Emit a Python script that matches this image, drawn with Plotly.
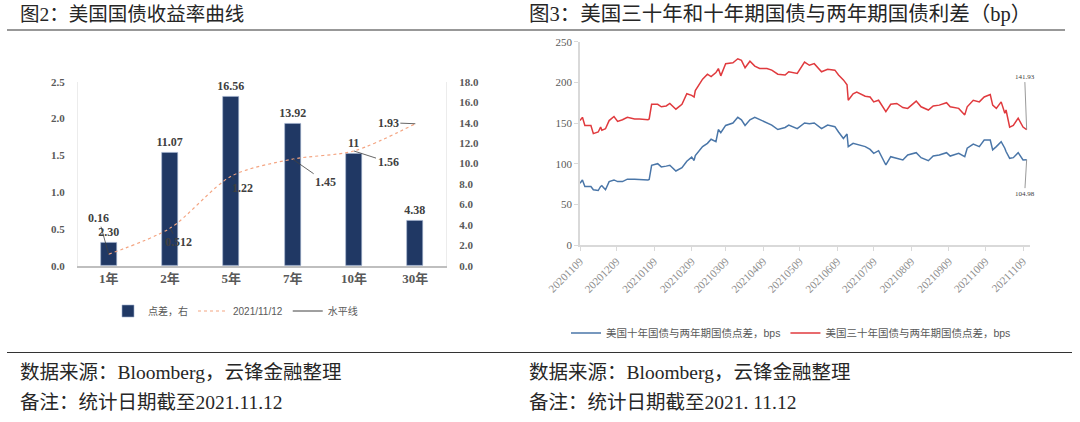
import plotly.graph_objects as go

# ---------------- Left chart data ----------------
maturities = ["1年", "2年", "5年", "7年", "10年", "30年"]
spread_bp = [2.30, 11.07, 16.56, 13.92, 11.00, 4.38]
spread_labels = ["2.30", "11.07", "16.56", "13.92", "11", "4.38"]
yields_20211112 = [0.16, 0.512, 1.22, 1.45, 1.56, 1.93]
yield_labels = ["0.16", "0.512", "1.22", "1.45", "1.56", "1.93"]

# ---------------- Right chart data ----------------
dates = [
    "2020-11-09", "2020-11-11", "2020-11-13", "2020-11-18", "2020-11-20", "2020-11-24",
    "2020-11-26", "2020-11-27", "2020-11-30", "2020-12-03", "2020-12-07", "2020-12-10",
    "2020-12-14", "2020-12-18", "2020-12-24", "2020-12-28", "2021-01-04", "2021-01-05",
    "2021-01-07", "2021-01-12", "2021-01-15", "2021-01-19", "2021-01-22", "2021-01-27",
    "2021-02-01", "2021-02-05", "2021-02-09", "2021-02-11", "2021-02-12", "2021-02-18",
    "2021-02-22", "2021-02-25", "2021-03-01", "2021-03-03", "2021-03-05", "2021-03-09",
    "2021-03-15", "2021-03-19", "2021-03-22", "2021-03-25", "2021-03-29", "2021-04-02",
    "2021-04-06", "2021-04-12", "2021-04-16", "2021-04-21", "2021-04-27", "2021-04-30",
    "2021-05-07", "2021-05-13", "2021-05-17", "2021-05-21", "2021-05-27", "2021-06-01",
    "2021-06-07", "2021-06-10", "2021-06-14", "2021-06-17", "2021-06-18", "2021-06-22",
    "2021-06-25", "2021-07-02", "2021-07-06", "2021-07-09", "2021-07-13", "2021-07-19",
    "2021-07-23", "2021-07-28", "2021-08-02", "2021-08-06", "2021-08-13", "2021-08-17",
    "2021-08-23", "2021-08-27", "2021-09-01", "2021-09-07", "2021-09-10", "2021-09-17",
    "2021-09-22", "2021-09-24", "2021-09-29", "2021-10-04", "2021-10-08", "2021-10-13",
    "2021-10-15", "2021-10-18", "2021-10-22", "2021-10-25", "2021-10-26", "2021-10-29",
    "2021-11-01", "2021-11-05", "2021-11-09", "2021-11-12",
]
spread_30y_2y = [
    153, 157, 147, 147, 137, 139,
    145, 141, 143, 153, 158, 152,
    154, 157, 155, 155, 154, 155,
    173, 173, 170, 171, 174, 167,
    173, 186, 184, 182, 190, 204,
    210, 207, 212, 217, 208, 223,
    224, 229, 227, 218, 226, 220,
    217, 217, 215, 210, 209, 213,
    211, 225, 221, 223, 213, 216,
    215, 209, 203, 197, 178, 186,
    188, 183, 182, 176, 178, 164,
    173, 174, 169, 168, 177, 170,
    166, 171, 172, 175, 170, 168,
    160, 170, 178, 176, 182, 185,
    172, 168, 176, 162, 166, 145,
    147, 156, 145, 141.93,
]
spread_10y_2y = [
    76, 80, 72, 72, 68, 67,
    72, 73, 68, 78, 80, 78,
    78, 81, 81, 80.5, 80, 80.5,
    98, 100, 96, 97, 98, 91,
    95, 103, 108, 104, 110, 121,
    125, 130, 127, 142, 138, 147,
    150, 157, 154, 147, 154, 157,
    154, 150, 147.5, 142, 144.5, 147.5,
    143, 150, 149, 150, 143, 147.5,
    145.5, 139, 131, 136.5, 121, 125,
    124, 121, 117.5, 112.7, 116, 98.4,
    108.6, 106.6, 104.5, 110.7, 113.5, 107.4,
    103.7, 109.4, 110.7, 113.5, 109.4, 112.7,
    108.6, 119, 124, 121, 129, 129,
    117, 121, 127, 119, 115, 106.6,
    107.4, 113.5, 104.5, 104.98,
]
tick_dates = ["2020-11-09", "2020-12-09", "2021-01-09", "2021-02-09", "2021-03-09",
              "2021-04-09", "2021-05-09", "2021-06-09", "2021-07-09", "2021-08-09",
              "2021-09-09", "2021-10-09", "2021-11-09"]
tick_labels = ["20201109", "20201209", "20210109", "20210209", "20210309",
               "20210409", "20210509", "20210609", "20210709", "20210809",
               "20210909", "20211009", "20211109"]

# ---------------- Styles ----------------
SERIF = "Liberation Serif, Noto Sans CJK SC"
SANS = "Liberation Sans, Noto Sans CJK SC"
CJK = "Liberation Serif, Noto Sans CJK SC"
yield_label_offsets = [(-10, -36), (8, 14), (11, 12), (33, 23), (34, 11), (-27, -1)]

fig = go.Figure()

fig.add_trace(go.Bar(
    x=maturities, y=spread_bp, xaxis="x", yaxis="y", name="点差，右",
    width=0.26, marker=dict(color="#203864", line=dict(color="#9fb0cf", width=0.6)),
    text=spread_labels, textposition="outside", cliponaxis=False, constraintext="none",
    textfont=dict(family=SERIF, size=12, color="#404040", weight="bold"),
    legend="legend",
))
fig.add_trace(go.Scatter(
    x=maturities, y=yields_20211112, xaxis="x", yaxis="y2", name="2021/11/12",
    mode="lines", line=dict(color="#f4a582", width=1.2, dash="dot", shape="spline", smoothing=0.8),
    legend="legend",
))
fig.add_trace(go.Scatter(
    x=[None], y=[None], xaxis="x", yaxis="y2", name="水平线", mode="lines",
    line=dict(color="#404040", width=1), legend="legend",
))

fig.add_trace(go.Scatter(
    x=dates, y=spread_10y_2y, xaxis="x3", yaxis="y3", mode="lines",
    name="美国十年国债与两年期国债点差，bps",
    line=dict(color="#4a76a8", width=1.5), legend="legend2",
))
fig.add_trace(go.Scatter(
    x=dates, y=spread_30y_2y, xaxis="x3", yaxis="y3", mode="lines",
    name="美国三十年国债与两年期国债点差，bps",
    line=dict(color="#e03a3e", width=1.5), legend="legend2",
))

annotations = []
for i, (m, v, t) in enumerate(zip(maturities, yields_20211112, yield_labels)):
    ax, ay = yield_label_offsets[i]
    annotations.append(dict(
        x=m, y=v, xref="x", yref="y2", text=t, showarrow=True, arrowhead=0,
        arrowwidth=0.8, arrowcolor="#404040", ax=ax, ay=ay, standoff=0,
        font=dict(family=SERIF, size=12, color="#404040", weight="bold"),
    ))

annotations.append(dict(
    x=dates[-1], y=spread_30y_2y[-1], xref="x3", yref="y3", text=f"{spread_30y_2y[-1]:.2f}",
    showarrow=True, arrowhead=0, arrowwidth=0.8, arrowcolor="#7f7f7f", ax=-2, ay=-53,
    font=dict(family=SERIF, size=7, color="#404040"),
))
annotations.append(dict(
    x=dates[-1], y=spread_10y_2y[-1], xref="x3", yref="y3", text=f"{spread_10y_2y[-1]:.2f}",
    showarrow=True, arrowhead=0, arrowwidth=0.8, arrowcolor="#7f7f7f", ax=-2, ay=34,
    font=dict(family=SERIF, size=7, color="#404040"),
))

texts = [
    ("图2：美国国债收益率曲线", 18, 14, 19.5),
    ("图3：美国三十年和十年期国债与两年期国债利差（bp）", 527, 14, 20.5),
    ("数据来源：Bloomberg，云锋金融整理", 18, 372, 19.5),
    ("备注：统计日期截至2021.11.12", 18, 402, 19.5),
    ("数据来源：Bloomberg，云锋金融整理", 527, 372, 19.5),
    ("备注：统计日期截至2021. 11.12", 527, 402, 19.5),
]
for t, px, py, fs in texts:
    annotations.append(dict(
        x=px / 1080, y=1 - py / 422, xref="paper", yref="paper", text=t,
        showarrow=False, xanchor="left", yanchor="middle",
        font=dict(family=CJK, size=fs, color="#262626"),
    ))

shapes = [
    dict(type="line", xref="paper", yref="paper", x0=7 / 1080, x1=1065 / 1080,
         y0=1 - 30 / 422, y1=1 - 30 / 422, line=dict(color="#333333", width=1.2)),
    dict(type="line", xref="paper", yref="paper", x0=7 / 1080, x1=1072 / 1080,
         y0=1 - 352.5 / 422, y1=1 - 352.5 / 422, line=dict(color="#333333", width=1.2)),
]

fig.update_layout(
    width=1080, height=422, autosize=False,
    margin=dict(l=0, r=0, t=0, b=0, pad=0, autoexpand=False),
    paper_bgcolor="white", plot_bgcolor="white",
    showlegend=True, bargap=0,
    xaxis=dict(domain=[78 / 1080, 446 / 1080], anchor="y", type="category",
               range=[-0.5, 5.5], showline=True, linecolor="#bfbfbf", linewidth=1.5,
               ticks="", showgrid=False, zeroline=False, automargin=False,
               tickfont=dict(family=SERIF, size=13, color="#595959", weight="bold")),
    yaxis=dict(domain=[1 - 266 / 422, 1 - 81.7 / 422], anchor="x", side="right",
               range=[0, 18], dtick=2, tickformat=".1f", showline=True,
               linecolor="#ececec", showgrid=False, zeroline=False, ticks="",
               ticklabelstandoff=10, automargin=False,
               tickfont=dict(family=SERIF, size=11, color="#595959", weight="bold")),
    yaxis2=dict(overlaying="y", anchor="x", side="left", range=[0, 2.5], dtick=0.5,
                tickformat=".1f", showline=True, linecolor="#ececec", showgrid=False,
                zeroline=False, ticks="", ticklabelstandoff=10, automargin=False,
                tickfont=dict(family=SERIF, size=11, color="#595959", weight="bold")),
    xaxis3=dict(domain=[580 / 1080, 1030 / 1080], anchor="y3", type="date",
                range=["2020-11-09", "2021-11-14 18:00"], tickvals=tick_dates,
                ticktext=tick_labels, tickangle=-45, ticks="outside", ticklen=4,
                tickcolor="#d9d9d9", showline=True, linecolor="#d9d9d9", linewidth=1.5,
                showgrid=False, zeroline=False, automargin=False,
                tickfont=dict(family=SERIF, size=11, color="#8c8c8c")),
    yaxis3=dict(domain=[1 - 245 / 422, 1 - 41.7 / 422], anchor="x3", range=[0, 250],
                dtick=50, showline=True, linecolor="#d9d9d9", linewidth=1.5,
                ticks="outside", ticklen=4, tickcolor="#d9d9d9", showgrid=False,
                zeroline=False, automargin=False,
                tickfont=dict(family=SERIF, size=11, color="#595959")),
    legend=dict(orientation="h", x=108 / 1080, y=1 - 311 / 422, xanchor="left",
                yanchor="middle", bgcolor="rgba(0,0,0,0)",
                font=dict(family=SANS, size=10, color="#595959"),
                itemwidth=30, tracegroupgap=0),
    legend2=dict(orientation="h", x=566 / 1080, y=1 - 333 / 422, xanchor="left",
                 yanchor="middle", bgcolor="rgba(0,0,0,0)",
                 font=dict(family=SANS, size=10.5, color="#595959"), itemwidth=30),
    annotations=annotations,
    shapes=shapes,
)

fig.write_html("out.html", config={"displayModeBar": False},
               post_script="document.body.style.margin='0';document.body.style.overflow='hidden';")
